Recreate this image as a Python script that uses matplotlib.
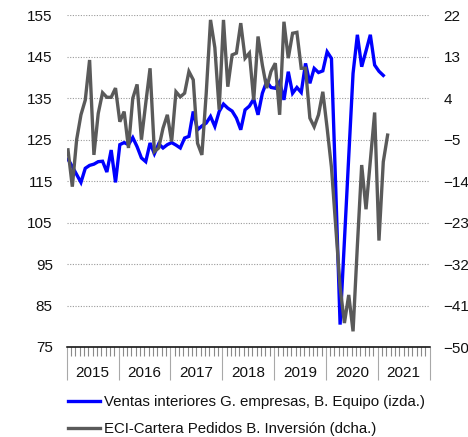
import numpy as np
import matplotlib
matplotlib.use("Agg")
import matplotlib.pyplot as plt
from matplotlib.transforms import blended_transform_factory

plt.rcParams['font.family'] = ['Liberation Sans', 'DejaVu Sans']

# ---- data (monthly, starting Jan 2015) ----
years = ['2015', '2016', '2017', '2018', '2019', '2020', '2021']

ventas = [120.3, 118.5, 116.6, 114.7, 118.1, 118.8, 119.1, 119.7, 119.8, 117.2,
          122.5, 114.7, 123.8, 124.3, 123.8, 125.5, 123.3, 120.6, 119.7, 124.2,
          121.6, 124.0, 123.0, 123.8, 124.3, 123.7, 123.0, 125.4, 125.8, 131.8,
          127.4, 128.3, 129.0, 130.6, 128.2, 131.8, 133.6, 132.6, 131.9, 130.2,
          127.4, 132.2, 133.1, 134.8, 131.0, 136.2, 139.0, 137.6, 137.4, 139.0,
          134.6, 141.4, 136.2, 137.6, 136.4, 143.4, 138.6, 142.2, 141.2, 141.6,
          146.2, 144.6, 113.0, 80.4, 100.6, 120.9, 141.0, 150.3, 142.6, 146.4,
          150.3, 143.0, 141.5, 140.5]

eci = [-7.2, -15.2, -5.0, 0.4, 3.6, 12.3, -8.3, 0.7, 5.2, 4.2,
       4.2, 6.2, -1.1, 1.1, -6.8, 4.0, 7.0, -5.0, 2.9, 10.5,
       -7.6, -6.8, -2.5, 0.4, -5.4, 5.4, 4.3, 5.1, 9.8, 8.0,
       -5.8, -8.3, 5.0, 21.0, 15.0, 1.5, 21.0, 6.5, 13.4, 13.8,
       20.3, 12.7, 13.8, 3.6, 17.4, 11.2, 6.2, 9.8, 11.6, 0.4,
       20.6, 12.7, 18.1, 18.3, 10.5, 10.5, -0.3, -2.2, 0.4, 5.4,
       -2.5, -11.0, -24.0, -37.0, -44.8, -38.7, -46.6, -28.0, -10.5, -20.1,
       -9.6, 0.9, -26.9, -9.8, -4.0]

left_ticks = [75, 85, 95, 105, 115, 125, 135, 145, 155]
right_ticks = [-50, -41, -32, -23, -14, -5, 4, 13, 22]

label_blue = 'Ventas interiores G. empresas, B. Equipo (izda.)'
label_gray = 'ECI-Cartera Pedidos B. Inversión (dcha.)'

# ---- figure ----
W, H = 468, 437
fig = plt.figure(figsize=(W / 100, H / 100), dpi=100)
ax = fig.add_axes([66.7 / W, 1 - 347 / H, (429.5 - 66.7) / W, (347 - 15.3) / H])
ax2 = ax.twinx()

x_b = np.arange(len(ventas)) + 0.3
x_g = np.arange(len(eci)) + 0.3

blue = '#0000FF'
gray = '#5a5a5a'

lb, = ax.plot(x_b, ventas, color=blue, lw=2.4, solid_joinstyle='miter', zorder=3)
lg, = ax2.plot(x_g, eci, color=gray, lw=2.4, solid_joinstyle='miter', zorder=3)

nmonths = 12 * len(years)
ax.set_xlim(0, nmonths)
ax.set_ylim(left_ticks[0], left_ticks[-1])
ax2.set_ylim(right_ticks[0], right_ticks[-1])

ax.set_yticks(left_ticks)
ax2.set_yticks(right_ticks)

# grid
for v in left_ticks[1:]:
    ax.axhline(v, color='#9a9a9a', lw=0.8, ls=(0, (1, 1.4)), zorder=1)

for a in (ax, ax2):
    for s in ('top', 'left', 'right'):
        a.spines[s].set_visible(False)
ax2.spines['bottom'].set_visible(False)
ax.spines['bottom'].set_color('black')
ax.spines['bottom'].set_linewidth(1.1)
ax.spines['bottom'].set_zorder(5)

fs = 11
ax.tick_params(axis='y', length=0, pad=10, labelsize=fs, labelcolor='#111111')
ax2.tick_params(axis='y', length=0, pad=10, labelsize=fs, labelcolor='#111111')

ax.set_xticks(np.arange(0, nmonths + 1, 12))
ax.set_xticks(np.arange(0, nmonths + 1, 1), minor=True)
ax.tick_params(axis='x', which='major', length=24, width=0.8, color='#a8a8a8',
               direction='out', labelbottom=False)
ax.tick_params(axis='x', which='minor', length=6.5, width=0.8, color='#8a8a8a',
               direction='out')

trans = blended_transform_factory(ax.transData, ax.transAxes)
for k, yl in enumerate(years):
    ax.text(12 * k + 6, -0.0775, yl, transform=trans, ha='center', va='center',
            fontsize=fs, color='#111111')

leg = ax.legend([lb, lg], [label_blue, label_gray], loc='upper left',
                bbox_to_anchor=(68 / W, 1 - 395 / H), bbox_transform=fig.transFigure,
                frameon=False, fontsize=10.8, handlelength=2.15, handletextpad=0.25,
                labelspacing=0.85, borderpad=0, borderaxespad=0)
for t in leg.get_texts():
    t.set_color('#111111')

fig.savefig('out.png', dpi=100)
